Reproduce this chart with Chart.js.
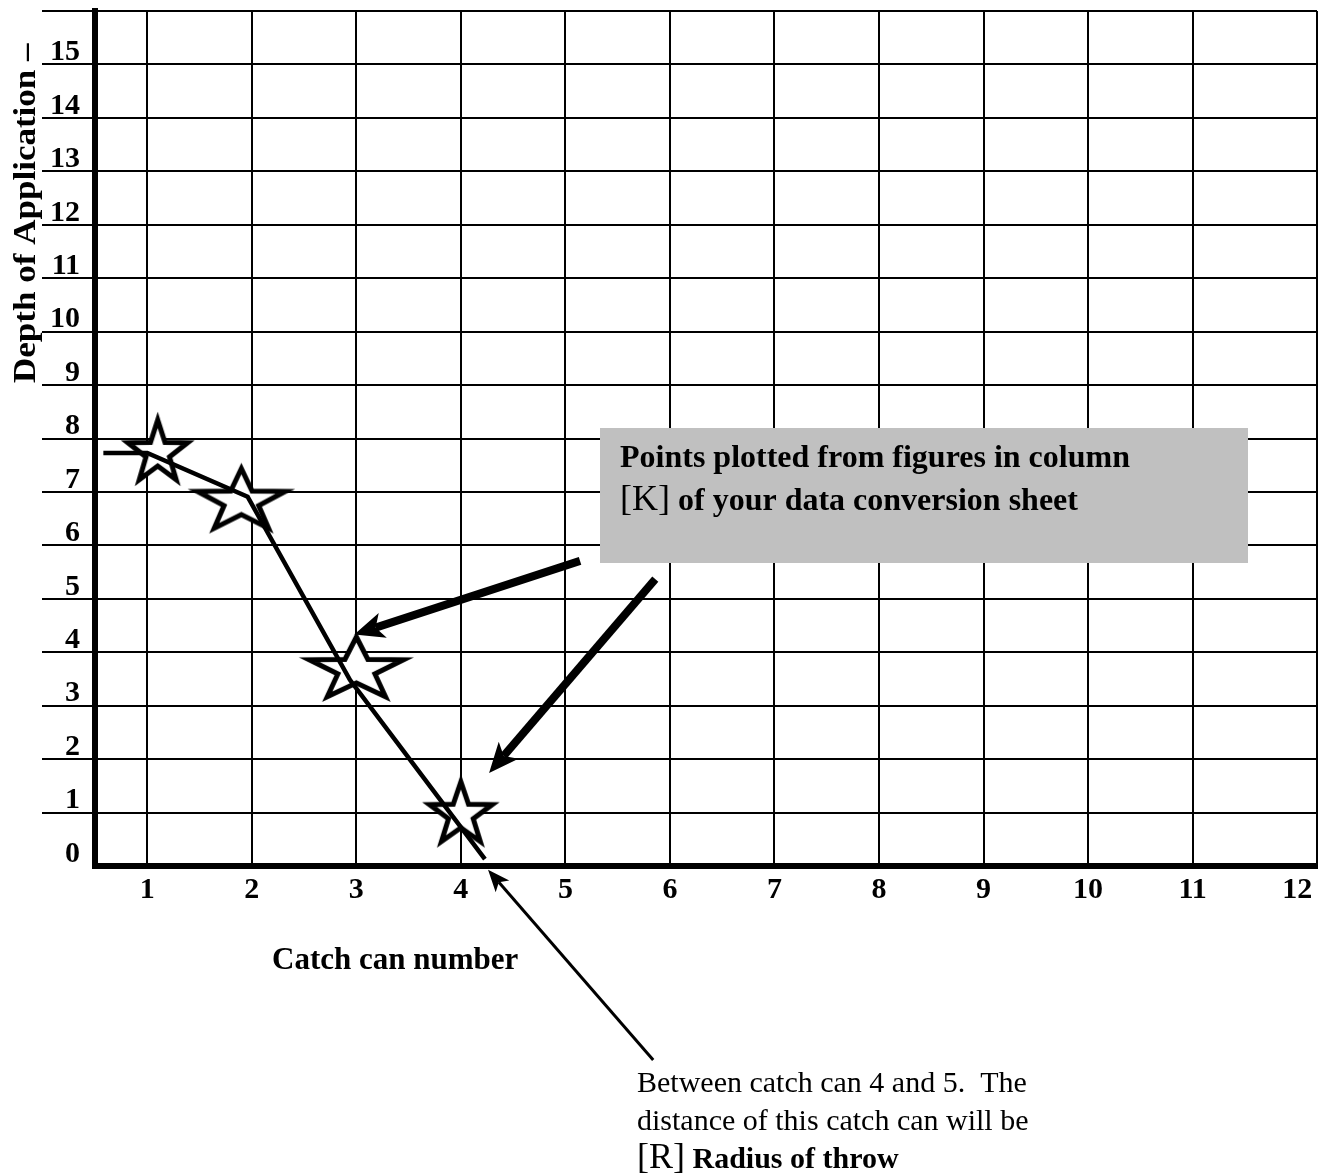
<!DOCTYPE html>
<html>
<head>
<meta charset="utf-8">
<title>Depth of application per catch can</title>
<script src="https://cdn.jsdelivr.net/npm/chart.js@4/dist/chart.umd.min.js"></script>
<style>
  html, body { margin: 0; padding: 0; background: #fff; }
</style>
</head>
<body>
<canvas id="myChart" width="1324" height="1176"></canvas>
<script>
// axis ticks
const xTicks = [1, 2, 3, 4, 5, 6, 7, 8, 9, 10, 11, 12];
const xMin = 0.5;
const xMax = 12.19;
const yTicks = [0, 1, 2, 3, 4, 5, 6, 7, 8, 9, 10, 11, 12, 13, 14, 15, 16];
const yLabels = ['0', '1', '2', '3', '4', '5', '6', '7', '8', '9', '10', '11', '12', '13', '14', '15', ''];

// points plotted from column [K]
const starX = [1.1, 1.9, 3.0, 4.0];
const starY = [7.73, 6.82, 3.67, 0.96];

// hand drawn line through the points
const lineX = [0.58, 1.0, 1.96, 2.94, 4.23];
const lineY = [7.73, 7.73, 6.91, 3.48, 0.13];

const serif = '"Liberation Serif", "Times New Roman", serif';
Chart.defaults.font.family = serif;
Chart.defaults.color = '#000';

// stars are a bit squashed in the original drawing
const starStretch = [0.95, 1.4, 1.5, 1.0];

function makeStar(sx) {
    const R = 33, r = 13;
    const c = document.createElement('canvas');
    c.width = Math.ceil(2 * R * sx + 20);
    c.height = Math.ceil(2 * R + 20);
    const g = c.getContext('2d');
    g.translate(c.width / 2, c.height / 2);
    g.beginPath();
    for (let i = 0; i < 10; i++) {
        const a = -Math.PI / 2 + i * Math.PI / 5;
        const rad = i % 2 === 0 ? R : r;
        g.lineTo(Math.cos(a) * rad * sx, Math.sin(a) * rad);
    }
    g.closePath();
    g.fillStyle = '#fff';
    g.fill();
    g.lineWidth = 5;
    g.strokeStyle = '#000';
    g.stroke();
    return c;
}

function drawArrow(ctx, x1, y1, x2, y2, w, headLen, headW) {
    const ang = Math.atan2(y2 - y1, x2 - x1);
    const cos = Math.cos(ang), sin = Math.sin(ang);
    const bx = x2 - cos * headLen, by = y2 - sin * headLen;
    const nx = x2 - cos * headLen * 0.75, ny = y2 - sin * headLen * 0.75;
    ctx.beginPath();
    ctx.moveTo(x1, y1);
    ctx.lineTo(nx, ny);
    ctx.lineWidth = w;
    ctx.lineCap = 'butt';
    ctx.stroke();
    ctx.beginPath();
    ctx.moveTo(x2, y2);
    ctx.lineTo(bx - sin * headW, by + cos * headW);
    ctx.lineTo(nx, ny);
    ctx.lineTo(bx + sin * headW, by - cos * headW);
    ctx.closePath();
    ctx.fill();
}

// draws runs of text with different fonts on one line
function drawRuns(ctx, x, y, runs) {
    runs.forEach(run => {
        ctx.font = run[0];
        ctx.fillText(run[1], x, y);
        x += ctx.measureText(run[1]).width;
    });
}

// arrows in data units: [fromX, fromY, toX, toY, width]
const arrows = [
    [5.14, 5.71, 2.98, 4.33, 8],
    [5.86, 5.37, 4.27, 1.74, 8],
    [5.84, -3.63, 4.26, -0.07, 3]
];

const notes = {
    id: 'notes',
    afterDraw(chart) {
        const ctx = chart.ctx;
        const xs = chart.scales.x, ys = chart.scales.y;
        ctx.save();
        ctx.fillStyle = '#000';
        ctx.strokeStyle = '#000';
        ctx.textAlign = 'left';
        ctx.textBaseline = 'alphabetic';

        // grey label box
        ctx.fillStyle = '#c0c0c0';
        ctx.fillRect(600, 428, 648, 135);
        ctx.fillStyle = '#000';
        drawRuns(ctx, 620, 467, [['bold 32px ' + serif, 'Points plotted from figures in column']]);
        drawRuns(ctx, 620, 510, [['36px ' + serif, '[K]'], ['bold 32px ' + serif, ' of your data conversion sheet']]);

        arrows.forEach(a => {
            const big = a[4] > 5;
            drawArrow(ctx, xs.getPixelForValue(a[0]), ys.getPixelForValue(a[1]),
                xs.getPixelForValue(a[2]), ys.getPixelForValue(a[3]),
                a[4], big ? 30 : 22, big ? 13 : 9);
        });

        // axis titles
        drawRuns(ctx, 272, 969, [['bold 31px ' + serif, 'Catch can number']]);
        ctx.save();
        ctx.translate(35, 383);
        ctx.rotate(-Math.PI / 2);
        ctx.scale(1.13, 1);
        drawRuns(ctx, 0, 0, [['bold 31px ' + serif, 'Depth of Application –']]);
        ctx.restore();

        // note under the chart
        drawRuns(ctx, 637, 1092, [['30px ' + serif, 'Between catch can 4 and 5.  The']]);
        drawRuns(ctx, 637, 1130, [['30px ' + serif, 'distance of this catch can will be']]);
        drawRuns(ctx, 637, 1168, [['36px ' + serif, '[R]'], ['bold 30px ' + serif, ' Radius of throw']]);
        ctx.restore();
    }
};

function renderChart() {
    const ctx = document.getElementById('myChart').getContext('2d');
    new Chart(ctx, {
        type: 'line',
        data: {
            datasets: [{
                data: lineX.map((x, i) => ({ x: x, y: lineY[i] })),
                borderColor: '#000',
                borderWidth: 4.5,
                pointRadius: 0,
                tension: 0,
                order: 0
            }, {
                data: starX.map((x, i) => ({ x: x, y: starY[i] })),
                showLine: false,
                pointStyle: starStretch.map(makeStar),
                pointRadius: 30,
                clip: false,
                order: 1
            }]
        },
        options: {
            responsive: false,
            animation: false,
            layout: { autoPadding: false, padding: { top: 11, right: 7, left: 0, bottom: 0 } },
            plugins: {
                legend: { display: false },
                tooltip: { enabled: false }
            },
            scales: {
                x: {
                    type: 'linear',
                    min: xMin,
                    max: xMax,
                    afterBuildTicks: s => { s.ticks = xTicks.concat([xMax]).map(v => ({ value: v })); },
                    afterFit: s => { s.height = 310; s.paddingLeft = 0; s.paddingRight = 0; },
                    grid: {
                        color: c => (c.tick && c.tick.value === 12) ? 'rgba(0,0,0,0)' : '#000',
                        lineWidth: 2,
                        drawTicks: false
                    },
                    border: { display: true, color: '#000', width: 6 },
                    ticks: {
                        autoSkip: false,
                        maxRotation: 0,
                        padding: 6,
                        font: { size: 30, weight: 'bold' },
                        callback: v => (xTicks.includes(v) ? String(v) : '')
                    }
                },
                y: {
                    type: 'linear',
                    min: 0,
                    max: yTicks[yTicks.length - 1],
                    afterBuildTicks: s => { s.ticks = yTicks.map(v => ({ value: v })); },
                    afterFit: s => { s.width = 95; s.paddingTop = 0; s.paddingBottom = 0; },
                    grid: {
                        color: '#000',
                        lineWidth: 2,
                        tickLength: 53,
                        tickWidth: 2,
                        tickColor: c => (c.tick && c.tick.value === 0) ? 'rgba(0,0,0,0)' : '#000'
                    },
                    border: { display: true, color: '#000', width: 6 },
                    ticks: {
                        autoSkip: false,
                        padding: -38,
                        labelOffset: -12,
                        font: { size: 30, weight: 'bold' },
                        callback: (v, i) => yLabels[i]
                    }
                }
            }
        },
        plugins: [notes]
    });
}

document.addEventListener('DOMContentLoaded', renderChart);
</script>
</body>
</html>
